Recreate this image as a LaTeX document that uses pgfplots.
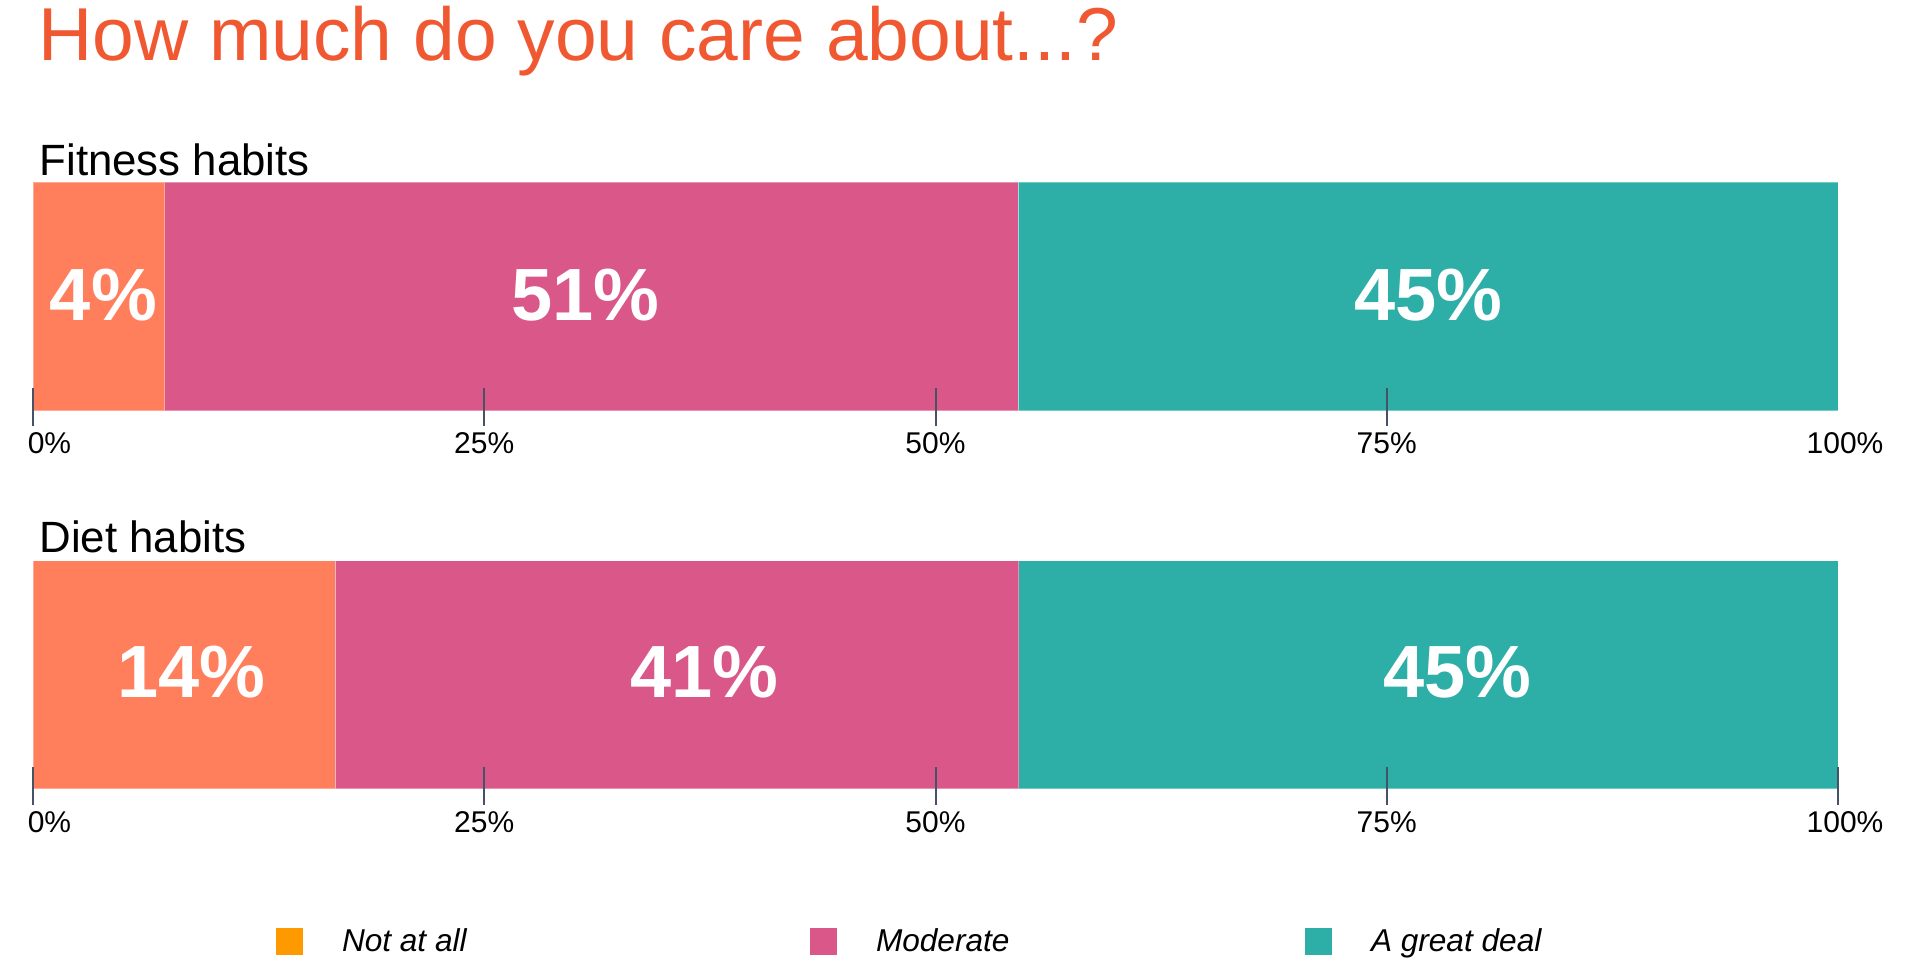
\documentclass[border=0pt]{standalone}
\usepackage{pgfplots}
\pgfplotsset{compat=1.18}
\usepackage{fontspec}
\setmainfont{Liberation Sans}
\definecolor{cOrange}{HTML}{FF7F5C}
\definecolor{cMag}{HTML}{DA5889}
\definecolor{cTeal}{HTML}{2DAEA6}
\definecolor{cLegOrange}{HTML}{FF9900}
\definecolor{cTitle}{HTML}{F05832}
\definecolor{cTick}{HTML}{465366}
\pgfplotsset{
 panel/.style={
  scale only axis, width=902.5pt,
  xmin=0, xmax=100, clip=false,
  axis on top,
  xbar stacked,
  axis line style={draw=none},
  ytick=\empty,
  xtick pos=left,
  tick align=center,
  major tick style={color=cTick, line width=1pt},
  xticklabel style={font=\fontsize{15}{18}\selectfont, anchor=base, yshift=-13.5pt, inner sep=0pt},
  every axis plot/.append style={draw=white, draw opacity=0.35, line width=0.5pt},
 },
 legsq/.style={legend image code/.code={\fill[##1] (0pt,-6.75pt) rectangle (13.5pt,6.75pt);}},
}
\tikzset{barlabel/.style={font=\bfseries\fontsize{37}{44}\selectfont, text=white, anchor=base, inner sep=0pt}}
\begin{document}
\begin{tikzpicture}
\useasboundingbox (0,0) rectangle (956pt,-484.5pt);
\node[anchor=base west, inner sep=0pt, text=cTitle, font=\fontsize{37.5}{45}\selectfont] at (19pt,-30pt) {How much do you care about...?};
\node[anchor=base west, inner sep=0pt, font=\fontsize{21.9}{26}\selectfont] at (19.6pt,-87.85pt) {Fitness habits};
\node[anchor=base west, inner sep=0pt, font=\fontsize{21.9}{26}\selectfont] at (19.6pt,-276.15pt) {Diet habits};

\begin{axis}[panel, at={(16.5pt,-203.5pt)}, anchor=south west,
  height=112.35pt, ymin=-407, ymax=-182.3, bar width=228.4,
  major tick length=19pt,
  xtick={0,25,50,75}, xticklabels={\hspace*{16.5pt}0\%,25\%,50\%,75\%},
  extra x ticks={100}, extra x tick labels={\hspace*{7pt}100\%},
  extra x tick style={major tick style={draw=none}}]
\addplot[fill=cOrange] coordinates {(7.31,-296.5)};
\addplot[fill=cMag] coordinates {(47.28,-296.5)};
\addplot[fill=cTeal] coordinates {(45.41,-296.5)};
\coordinate (a1) at (axis cs:3.9,-320);
\coordinate (a2) at (axis cs:30.6,-320);
\coordinate (a3) at (axis cs:77.3,-320);
\end{axis}

\begin{axis}[panel, at={(16.5pt,-392.925pt)}, anchor=south west,
  height=112.575pt, ymin=-785.85, ymax=-560.7, bar width=228,
  major tick length=19.15pt,
  xtick={0,25,50,75,100}, xticklabels={\hspace*{16.5pt}0\%,25\%,50\%,75\%,\hspace*{7pt}100\%},
  legend style={at={(0.13463,-0.6913)}, anchor=west, draw=none, fill=none,
    inner sep=0pt, outer sep=0pt, column sep=0pt, nodes={inner sep=0pt, outer sep=0pt},
    font=\itshape\fontsize{15.8}{19}\selectfont},
  legend columns=3, legend cell align=left]
\addlegendimage{legsq, fill=cLegOrange, draw=none}
\addlegendentry{\hspace*{19.5pt}\makebox[234pt][l]{Not at all}}
\addlegendimage{legsq, fill=cMag, draw=none}
\addlegendentry{\hspace*{19.5pt}\makebox[214.5pt][l]{Moderate}}
\addlegendimage{legsq, fill=cTeal, draw=none}
\addlegendentry{\hspace*{19.5pt}A great deal}
\addplot[fill=cOrange] coordinates {(16.75,-674.7)};
\addplot[fill=cMag] coordinates {(37.85,-674.7)};
\addplot[fill=cTeal] coordinates {(45.4,-674.7)};
\coordinate (b1) at (axis cs:8.77,-697.5);
\coordinate (b2) at (axis cs:37.2,-697.5);
\coordinate (b3) at (axis cs:78.9,-697.5);
\end{axis}

\node[barlabel] at (a1) {4\%};
\node[barlabel] at (a2) {51\%};
\node[barlabel] at (a3) {45\%};
\node[barlabel] at (b1) {14\%};
\node[barlabel] at (b2) {41\%};
\node[barlabel] at (b3) {45\%};
\end{tikzpicture}
\end{document}
